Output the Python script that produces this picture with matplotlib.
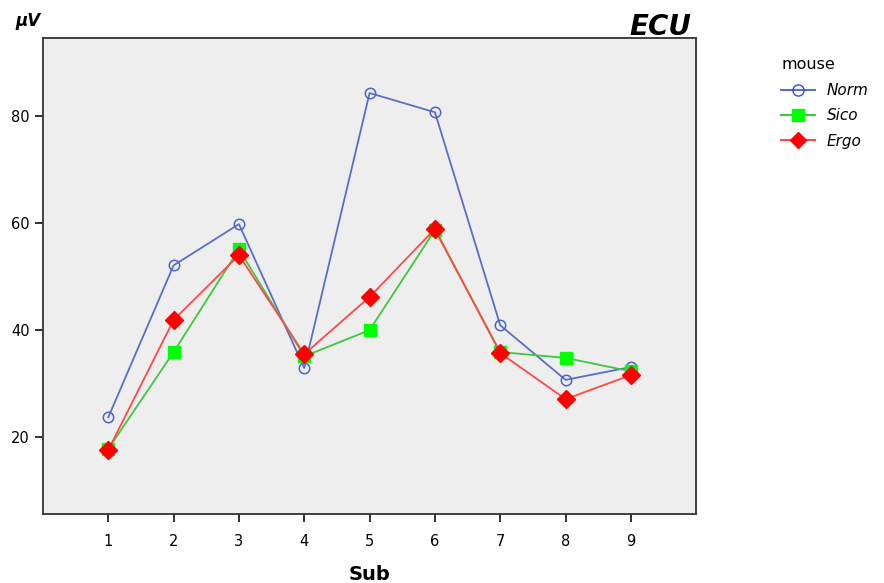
import matplotlib.pyplot as plt
from matplotlib.lines import Line2D

subjects = [1, 2, 3, 4, 5, 6, 7, 8, 9]
norm = [23.7, 52.1, 59.8, 32.9, 84.3, 80.7, 40.9, 30.7, 33.1]
sico = [17.8, 35.9, 55.1, 35.1, 40.0, 58.7, 35.9, 34.8, 32.3]
ergo = [17.6, 41.9, 54.0, 35.5, 46.2, 58.9, 35.7, 27.1, 31.6]
yticks = [20, 40, 60, 80]

fig = plt.figure(figsize=(8.84, 5.83), dpi=100)
ax = fig.add_axes([0.0486, 0.118, 0.739, 0.817])
ax.set_facecolor("#eeeeee")

ax.plot(subjects, norm, color="#5a6fc4", lw=1.3, marker="o", ms=7.5,
        mfc="none", mec="#4f63c8", mew=1.1, zorder=3)
ax.plot(subjects, sico, color="#3ec83e", lw=1.3, marker="s", ms=9,
        mfc="#00ff00", mec="#00ff00", zorder=4)
ax.plot(subjects, ergo, color="#ff4848", lw=1.3, marker="D", ms=9,
        mfc="#ff0000", mec="#ff0000", zorder=5)

ax.set_xlim(0, 10)
ax.set_ylim(5.6, 94.6)
ax.set_xticks(subjects)
ax.set_yticks(yticks)
ax.tick_params(direction="out", length=6, width=1.3, labelsize=10.5, color="#222222")
ax.tick_params(axis="x", pad=8)
for s in ax.spines.values():
    s.set_linewidth(1.3)
    s.set_color("#333333")

ax.set_xlabel("Sub", fontsize=14, fontweight="bold", labelpad=12)
fig.text(0.018, 0.955, "μV", fontsize=12, fontweight="bold", style="italic")
fig.text(0.782, 0.94, "ECU", fontsize=20, fontweight="bold", style="italic", ha="right")

handles = [
    Line2D([], [], color="#5a6fc4", marker="o", mfc="none", mec="#3344ff", ms=8),
    Line2D([], [], color="#3ec83e", marker="s", mfc="#00ff00", mec="#00ff00", ms=8),
    Line2D([], [], color="#ff4848", marker="D", mfc="#ff0000", mec="#ff0000", ms=8),
]
leg = fig.legend(handles, ["Norm", "Sico", "Ergo"], title="mouse",
                 loc="upper left", bbox_to_anchor=(0.868, 0.925), frameon=False,
                 fontsize=11, title_fontsize=11.5, handlelength=2.2,
                 labelspacing=0.68, alignment="left")
leg.get_title().set_position((0, 0))
for t in leg.get_texts():
    t.set_style("italic")

fig.savefig("out.png", dpi=100)
